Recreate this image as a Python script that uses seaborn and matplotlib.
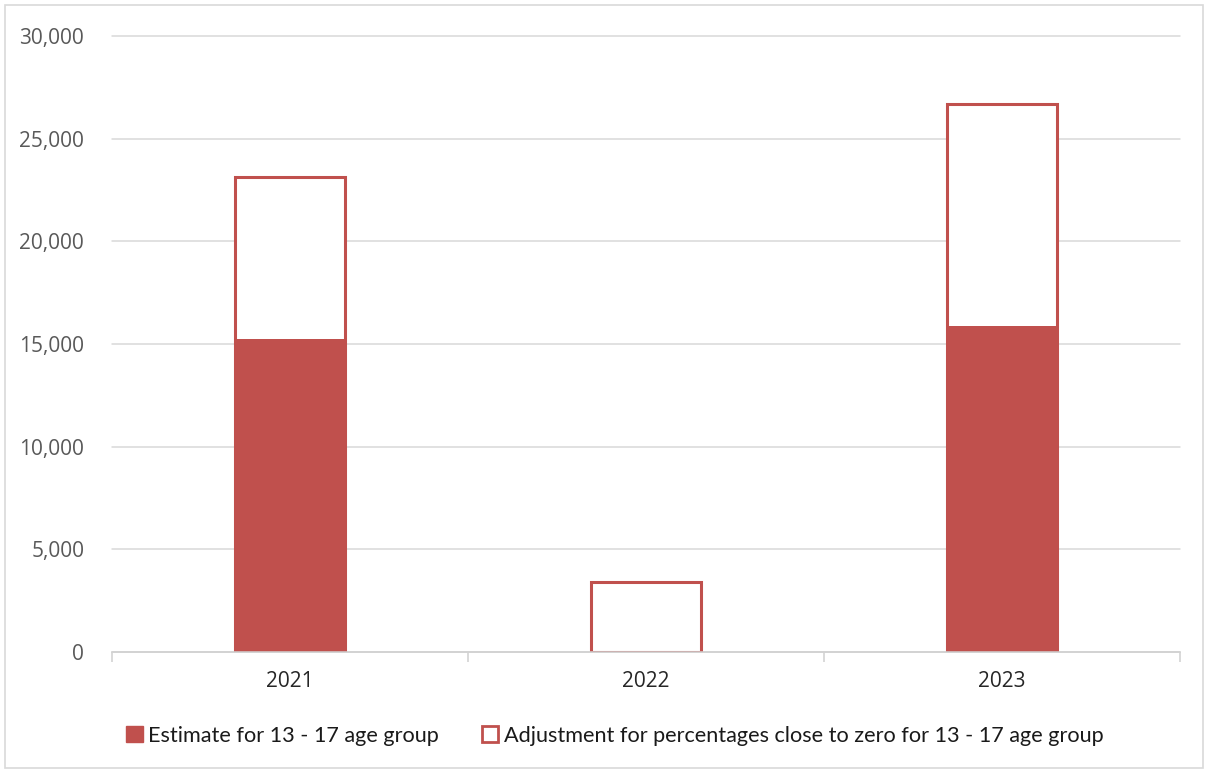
import matplotlib
matplotlib.use("Agg")
import matplotlib.pyplot as plt
import matplotlib.patches as mpatches
from matplotlib.ticker import FuncFormatter, FixedLocator
import seaborn as sns
import pandas as pd

years = ["2021", "2022", "2023"]
estimate = [15250, 0, 15900]
adjustment = [7900, 3400, 10800]
series_names = ["Estimate for 13 - 17 age group",
                "Adjustment for percentages close to zero for 13 - 17 age group"]

red = "#C0504D"
grey_text = "#595959"

sns.set_style("white")
plt.rcParams["font.family"] = ["Lato", "DejaVu Sans"]

df = pd.DataFrame({
    "year": years,
    "estimate": estimate,
    "total": [e + a for e, a in zip(estimate, adjustment)],
})

fig = plt.figure(figsize=(12.08, 7.71), dpi=100)
ax = fig.add_axes([0.0927, 0.1543, 0.8841, 0.799])

# outlined stacked segment: drawn as full height, then covered by the filled estimate
sns.barplot(data=df, x="year", y="total", color="white", edgecolor=red,
            linewidth=2.2, width=0.31, ax=ax, zorder=3)
sns.barplot(data=df, x="year", y="estimate", color=red, edgecolor=red,
            linewidth=0, width=0.31, ax=ax, zorder=4, saturation=1)

ax.set_ylim(0, 30000)
ax.set_xlim(-0.5, 2.5)
ax.set_yticks(range(0, 30001, 5000))
ax.yaxis.set_major_formatter(FuncFormatter(lambda v, p: f"{int(v):,}"))
ax.yaxis.grid(True, color="#d9d9d9", linewidth=1.1, zorder=0)
for gl in ax.yaxis.get_gridlines():
    gl.set_clip_on(False)
ax.set_axisbelow(True)

for s in ["top", "right", "left"]:
    ax.spines[s].set_visible(False)
ax.spines["bottom"].set_color("#d0d0d0")
ax.spines["bottom"].set_linewidth(1.1)
ax.spines["bottom"].set_zorder(5)

ax.tick_params(axis="y", length=0, labelsize=15, labelcolor=grey_text, pad=20)
ax.tick_params(axis="x", which="major", bottom=False, length=0, labelsize=15,
               labelcolor="#262626", pad=14)
ax.xaxis.set_minor_locator(FixedLocator([-0.5, 0.5, 1.5, 2.5]))
ax.tick_params(axis="x", which="minor", bottom=True, length=7, width=1.1, color="#d0d0d0")
for lab in ax.get_yticklabels() + ax.get_xticklabels():
    lab.set_family(["Open Sans", "DejaVu Sans"])
ax.set_xlabel("")
ax.set_ylabel("")

handles = [
    mpatches.Patch(facecolor=red, edgecolor=red, label=series_names[0]),
    mpatches.Patch(facecolor="white", edgecolor=red, linewidth=2, label=series_names[1]),
]
fig.legend(handles=handles, loc="center", bbox_to_anchor=(0.509, 0.046), ncol=2,
           frameon=False, fontsize=15.6, labelcolor="#1a1a1a", handlelength=0.75,
           handleheight=0.75, handletextpad=0.25, columnspacing=2.0)

fig.patches.append(mpatches.Rectangle((0.004, 0.004), 0.992, 0.99, transform=fig.transFigure,
                                      fill=False, edgecolor="#d9d9d9", linewidth=1.2))

fig.savefig("out.png", dpi=100, facecolor="white")
